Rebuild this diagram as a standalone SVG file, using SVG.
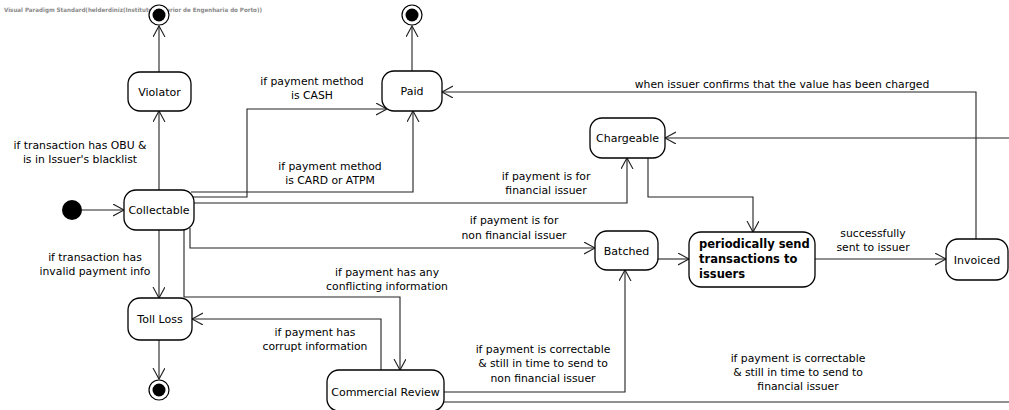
<svg xmlns="http://www.w3.org/2000/svg" width="1009" height="410" viewBox="0 0 1009 410">
  <style>
    .state { fill: #ffffff; stroke: #000000; stroke-width: 1.3; }
    .name { font-family: "DejaVu Sans", sans-serif; font-size: 11px; fill: #000000; text-anchor: middle; }
    .bold { font-family: "DejaVu Sans", sans-serif; font-size: 11.5px; font-weight: bold; fill: #000000; }
    .lbl { font-family: "DejaVu Sans", sans-serif; font-size: 10.8px; fill: #000000; text-anchor: middle; }
    .edge { fill: none; stroke: #222222; stroke-width: 1.1; marker-end: url(#arrow); }
    .plain { fill: none; stroke: #222222; stroke-width: 1.1; }
    .hdr { font-family: "DejaVu Sans", sans-serif; font-size: 6px; font-weight: bold; fill: #8a8a8a; }
  </style>
  <defs>
    <marker id="arrow" markerUnits="userSpaceOnUse" markerWidth="14" markerHeight="14" refX="11" refY="6" orient="auto">
      <path d="M0,0 L11,6 L0,12" fill="none" stroke="#222222" stroke-width="1.1"/>
    </marker>
  </defs>

  <text class="hdr" x="4" y="12" textLength="258" lengthAdjust="spacingAndGlyphs">Visual Paradigm Standard(helderdiniz(Instituto Superior de Engenharia do Porto))</text>

  <!-- transitions -->
  <g id="connectors">
    <line class="edge" x1="159" y1="72" x2="159" y2="26"/>
    <line class="edge" x1="412" y1="71" x2="412" y2="26"/>
    <line class="edge" x1="159" y1="190" x2="159" y2="111"/>
    <line class="edge" x1="82" y1="210" x2="124" y2="210"/>
    <polyline class="edge" points="193,197 247,197 247,109 387,109"/>
    <polyline class="edge" points="191,192 413,192 413,111"/>
    <polyline class="edge" points="194,203 627,203 627,158"/>
    <polyline class="edge" points="648,158 648,197 753,197 753,232"/>
    <line class="edge" x1="1009" y1="138" x2="665" y2="138"/>
    <polyline class="edge" points="190,228 190,248 595,248"/>
    <line class="edge" x1="658" y1="259" x2="689" y2="259"/>
    <line class="edge" x1="815" y1="259" x2="946" y2="259"/>
    <polyline class="edge" points="976,239 976,92 442,92"/>
    <line class="edge" x1="159" y1="230" x2="159" y2="298"/>
    <polyline class="edge" points="184,230 184,297 400,297 400,370"/>
    <polyline class="edge" points="381,370 381,319 192,319"/>
    <line class="edge" x1="159" y1="340" x2="159" y2="379"/>
    <polyline class="edge" points="444,392 625,392 625,270"/>
    <line class="plain" x1="444" y1="402" x2="1009" y2="402"/>
  </g>

  <!-- transition labels -->
  <g id="labels">
    <text class="lbl" x="80" y="149">if transaction has OBU &amp;</text>
    <text class="lbl" x="80" y="163">is in Issuer's blacklist</text>
    <text class="lbl" x="312" y="85">if payment method</text>
    <text class="lbl" x="312" y="99">is CASH</text>
    <text class="lbl" x="330" y="170">if payment method</text>
    <text class="lbl" x="330" y="184">is CARD or ATPM</text>
    <text class="lbl" x="546" y="180">if payment is for</text>
    <text class="lbl" x="546" y="194">financial issuer</text>
    <text class="lbl" x="514" y="224">if payment is for</text>
    <text class="lbl" x="514" y="239">non financial issuer</text>
    <text class="lbl" x="782" y="88">when issuer confirms that the value has been charged</text>
    <text class="lbl" x="873" y="237">successfully</text>
    <text class="lbl" x="873" y="251">sent to issuer</text>
    <text class="lbl" x="95" y="261">if transaction has</text>
    <text class="lbl" x="95" y="275">invalid payment info</text>
    <text class="lbl" x="387" y="276">if payment has any</text>
    <text class="lbl" x="387" y="290">conflicting information</text>
    <text class="lbl" x="315" y="336">if payment has</text>
    <text class="lbl" x="315" y="350">corrupt information</text>
    <text class="lbl" x="543" y="353">if payment is correctable</text>
    <text class="lbl" x="543" y="367">&amp; still in time to send to</text>
    <text class="lbl" x="543" y="382">non financial issuer</text>
    <text class="lbl" x="798" y="362">if payment is correctable</text>
    <text class="lbl" x="798" y="376">&amp; still in time to send to</text>
    <text class="lbl" x="798" y="390">financial issuer</text>
  </g>

  <!-- pseudo states -->
  <g id="initial">
    <circle cx="72" cy="210" r="10" fill="#000000"/>
  </g>
  <g id="final-violator">
    <circle cx="159" cy="15" r="10" fill="#ffffff" stroke="#000000" stroke-width="1.2"/>
    <circle cx="159" cy="15" r="6.5" fill="#000000"/>
  </g>
  <g id="final-paid">
    <circle cx="412" cy="15" r="10" fill="#ffffff" stroke="#000000" stroke-width="1.2"/>
    <circle cx="412" cy="15" r="6.5" fill="#000000"/>
  </g>
  <g id="final-tollloss">
    <circle cx="159" cy="390" r="10" fill="#ffffff" stroke="#000000" stroke-width="1.2"/>
    <circle cx="159" cy="390" r="6.5" fill="#000000"/>
  </g>

  <!-- states -->
  <g id="violator">
    <rect class="state" x="128" y="72" width="63" height="39" rx="12"/>
    <text class="name" x="159.5" y="95.5">Violator</text>
  </g>
  <g id="paid">
    <rect class="state" x="382" y="71" width="60" height="40" rx="12"/>
    <text class="name" x="412" y="94.5">Paid</text>
  </g>
  <g id="collectable">
    <rect class="state" x="124" y="190" width="70" height="40" rx="12"/>
    <text class="name" x="159" y="214">Collectable</text>
  </g>
  <g id="chargeable">
    <rect class="state" x="590" y="118" width="75" height="40" rx="12"/>
    <text class="name" x="627.5" y="142">Chargeable</text>
  </g>
  <g id="batched">
    <rect class="state" x="595" y="231" width="63" height="39" rx="12"/>
    <text class="name" x="626.5" y="255">Batched</text>
  </g>
  <g id="periodically-send">
    <rect class="state" x="689" y="232" width="126" height="55" rx="12"/>
    <text class="bold" x="699" y="248">periodically send</text>
    <text class="bold" x="699" y="263">transactions to</text>
    <text class="bold" x="699" y="278">issuers</text>
  </g>
  <g id="invoiced">
    <rect class="state" x="946" y="239" width="62" height="41" rx="12"/>
    <text class="name" x="977" y="263.5">Invoiced</text>
  </g>
  <g id="toll-loss">
    <rect class="state" x="128" y="298" width="64" height="42" rx="12"/>
    <text class="name" x="160" y="323">Toll Loss</text>
  </g>
  <g id="commercial-review">
    <rect class="state" x="327" y="370" width="117" height="41" rx="12"/>
    <text class="name" x="385.5" y="396">Commercial Review</text>
  </g>
</svg>
